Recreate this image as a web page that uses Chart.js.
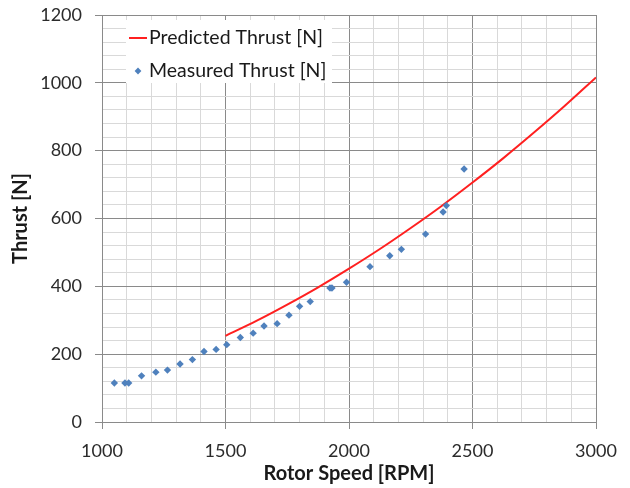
<!DOCTYPE html>
<html>
<head>
<meta charset="utf-8">
<script src="https://cdn.jsdelivr.net/npm/chart.js@4/dist/chart.umd.min.js"></script>
<style>
  html, body { margin: 0; padding: 0; background: #ffffff; }
  #wrap { width: 630px; height: 488px; position: relative; }
</style>
</head>
<body>
<div id="wrap"><canvas id="c" width="630" height="488"></canvas></div>
<script>
// ---- data ----
const measuredRpm    = [1050, 1093, 1108, 1160, 1218, 1265, 1316, 1366, 1413, 1462, 1505, 1560, 1612, 1656, 1709, 1757, 1800, 1843, 1923, 1931, 1990, 2085, 2165, 2212, 2310, 2381, 2394, 2466];
const measuredThrust = [ 115,  115,  115,  136,  147,  153,  171,  184,  208,  214,  228,  249,  262,  283,  290,  315,  341,  355,  395,  395,  412,  458,  490,  509,  554,  619,  638,  746];
const predictedRpm    = [1500, 1625, 1750, 1875, 2000, 2125, 2250, 2375, 2500, 2625, 2750, 2875, 3000];
const predictedThrust = [ 254,  298,  346,  397,  452,  510,  572,  637,  706,  778,  854,  933, 1016];
const xTickLabels = [1000, 1500, 2000, 2500, 3000];
const yTickLabels = [0, 200, 400, 600, 800, 1000, 1200];
const seriesNames = ['Predicted Thrust [N]', 'Measured Thrust [N]'];
const axisTitles = { x: 'Rotor Speed [RPM]', y: 'Thrust [N]' };

const FONT = 'Lato, "Open Sans", "Liberation Sans", sans-serif';
const MAJOR = '#8a8a8a';
const MINOR = '#d9d9d9';
const RED = '#ff2020';
const BLUE = '#4f81bd';
const TEXT = '#2b2b2b';

const predicted = predictedRpm.map((x, i) => ({ x, y: predictedThrust[i] }));
const measured = measuredRpm.map((x, i) => ({ x, y: measuredThrust[i] }));

const legendPlugin = {
  id: 'inLegend',
  beforeDatasetsDraw(chart) {
    const ctx = chart.ctx;
    const a = chart.chartArea;
    ctx.save();
    ctx.fillStyle = '#ffffff';
    ctx.fillRect(a.left + 24, a.top + 5, 206, 63);
    ctx.font = '19.5px ' + FONT;
    ctx.fillStyle = '#1a1a1a';
    ctx.textBaseline = 'middle';
    // predicted line sample
    ctx.strokeStyle = RED;
    ctx.lineWidth = 2;
    ctx.beginPath();
    ctx.moveTo(a.left + 27, a.top + 23);
    ctx.lineTo(a.left + 45, a.top + 23);
    ctx.stroke();
    ctx.fillText(chart.data.datasets[0].label, a.left + 47, a.top + 23);
    // measured marker sample
    ctx.fillStyle = BLUE;
    const cx = a.left + 36, cy = a.top + 56, r = 3.4;
    ctx.beginPath();
    ctx.moveTo(cx, cy - r); ctx.lineTo(cx + r, cy); ctx.lineTo(cx, cy + r); ctx.lineTo(cx - r, cy); ctx.closePath();
    ctx.fill();
    ctx.fillStyle = '#1a1a1a';
    ctx.fillText(chart.data.datasets[1].label, a.left + 47, a.top + 56);
    ctx.restore();
  }
};

new Chart(document.getElementById('c'), {
  type: 'scatter',
  data: {
    datasets: [
      {
        type: 'line',
        label: seriesNames[0],
        data: predicted,
        borderColor: RED,
        backgroundColor: RED,
        borderWidth: 2,
        pointRadius: 0,
        cubicInterpolationMode: 'monotone',
        fill: false,
        order: 1
      },
      {
        label: seriesNames[1],
        data: measured,
        pointStyle: 'rectRot',
        pointRadius: 3.7,
        pointBorderWidth: 0,
        backgroundColor: BLUE,
        borderColor: BLUE,
        order: 0
      }
    ]
  },
  plugins: [legendPlugin],
  options: {
    responsive: false,
    animation: false,
    devicePixelRatio: 1,
    layout: { padding: { left: 0, right: 34, top: 15, bottom: 0 } },
    plugins: { legend: { display: false }, tooltip: { enabled: false } },
    scales: {
      x: {
        type: 'linear',
        min: 1000, max: 3000,
        afterFit(s) { s.height = 66; s.paddingLeft = 0; s.paddingRight = 0; },
        ticks: {
          stepSize: 100,
          autoSkip: false,
          maxRotation: 0,
          padding: 11,
          color: TEXT,
          font: { family: FONT, size: 18 },
          callback: (v) => xTickLabels.includes(v) ? String(v) : ''
        },
        grid: {
          color: (c) => (c.tick && c.tick.value % 500 === 0) ? MAJOR : MINOR,
          tickColor: (c) => (c.tick && c.tick.value % 500 === 0) ? MAJOR : 'rgba(0,0,0,0)',
          tickLength: 7,
          lineWidth: 1
        },
        border: { color: MAJOR, width: 1 },
        title: {
          display: true,
          text: axisTitles.x,
          color: '#1a1a1a',
          font: { family: FONT, size: 20, weight: 'bold' },
          padding: { top: 0, bottom: 2 }
        }
      },
      y: {
        type: 'linear',
        min: 0, max: 1200,
        afterFit(s) { s.width = 102; s.paddingTop = 0; s.paddingBottom = 0; },
        ticks: {
          stepSize: 40,
          autoSkip: false,
          padding: 13,
          color: TEXT,
          font: { family: FONT, size: 18 },
          callback: (v) => yTickLabels.includes(v) ? String(v) : ''
        },
        grid: {
          color: (c) => (c.tick && c.tick.value % 200 === 0) ? MAJOR : MINOR,
          tickColor: (c) => (c.tick && c.tick.value % 200 === 0) ? MAJOR : 'rgba(0,0,0,0)',
          tickLength: 7,
          lineWidth: 1
        },
        border: { color: MAJOR, width: 1 },
        title: {
          display: true,
          text: axisTitles.y,
          color: '#1a1a1a',
          font: { family: FONT, size: 20, weight: 'bold' },
          padding: { top: 9, bottom: 0 }
        }
      }
    }
  }
});
</script>
</body>
</html>
